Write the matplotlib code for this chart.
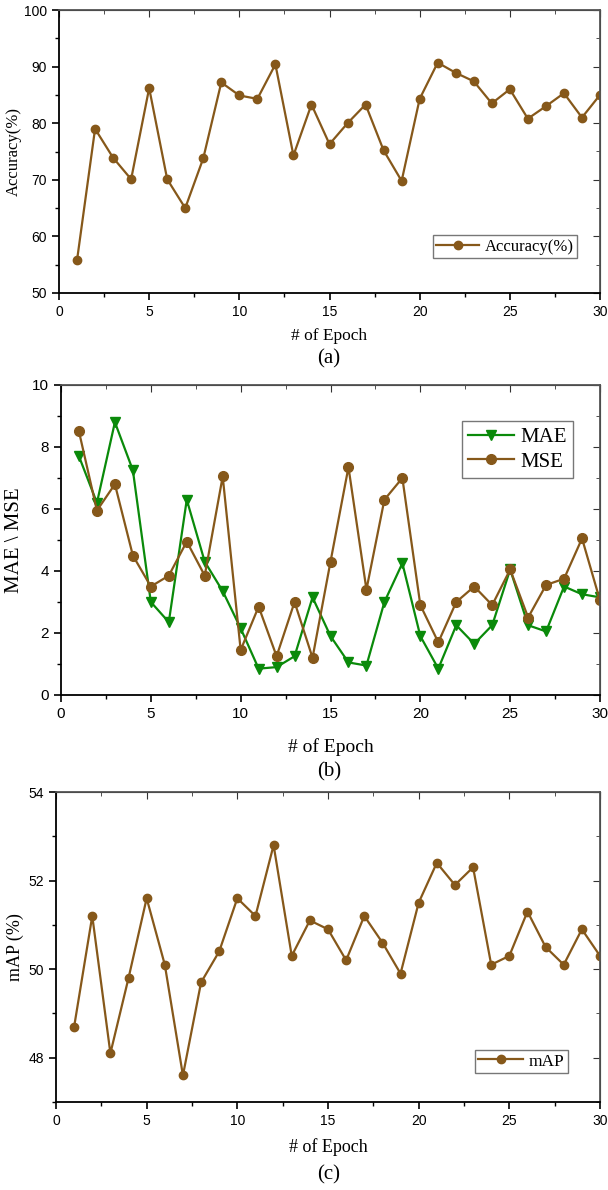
import numpy as np
import matplotlib
matplotlib.use('Agg')
import matplotlib.pyplot as plt
from matplotlib.ticker import MultipleLocator

plt.rcParams['font.family'] = 'Liberation Sans'

brown = '#86581A'
green = '#0A8A0A'

# epochs
epoch = list(range(1, 31))

# (a) accuracy
acc = [55.8, 79.0, 73.9, 70.1, 86.2, 70.1, 65.0, 73.8, 87.2, 84.9,
       84.3, 90.4, 74.3, 83.3, 76.3, 80.0, 83.3, 75.2, 69.8, 84.3,
       90.7, 88.9, 87.4, 83.5, 86.0, 80.8, 83.0, 85.3, 81.0, 85.0]

# (b) MAE / MSE
mae = [7.7, 6.2, 8.8, 7.25, 3.0, 2.35, 6.3, 4.3, 3.35, 2.15,
       0.85, 0.9, 1.25, 3.15, 1.9, 1.05, 0.95, 3.0, 4.25, 1.9,
       0.85, 2.25, 1.65, 2.25, 4.05, 2.25, 2.05, 3.5, 3.25, 3.15]
mse = [8.5, 5.95, 6.8, 4.5, 3.5, 3.85, 4.95, 3.85, 7.05, 1.45,
       2.85, 1.25, 3.0, 1.2, 4.3, 7.35, 3.4, 6.3, 7.0, 2.9,
       1.7, 3.0, 3.5, 2.9, 4.05, 2.5, 3.55, 3.75, 5.05, 3.05]

# (c) mAP
mapv = [48.7, 51.2, 48.1, 49.8, 51.6, 50.1, 47.6, 49.7, 50.4, 51.6,
        51.2, 52.8, 50.3, 51.1, 50.9, 50.2, 51.2, 50.6, 49.9, 51.5,
        52.4, 51.9, 52.3, 50.1, 50.3, 51.3, 50.5, 50.1, 50.9, 50.3]

W, H = 608, 1190
fig = plt.figure(figsize=(W / 100, H / 100), dpi=100)


def make_ax(l, t, r, b):
    # pixel box -> figure fraction
    return fig.add_axes([l / W, 1 - b / H, (r - l) / W, (b - t) / H])


def style(ax, ymin, ymax, ymaj, ymin_step, tsize):
    ax.set_xlim(0, 30)
    ax.set_ylim(ymin, ymax)
    ax.xaxis.set_major_locator(MultipleLocator(5))
    ax.xaxis.set_minor_locator(MultipleLocator(2.5))
    ax.yaxis.set_major_locator(MultipleLocator(ymaj))
    ax.yaxis.set_minor_locator(MultipleLocator(ymin_step))
    ax.tick_params(which='major', direction='out', length=5, width=1.2, labelsize=tsize)
    ax.tick_params(which='minor', direction='out', length=3, width=1.0)
    for s in ax.spines.values():
        s.set_linewidth(1.3)
    ax.spines['top'].set_color('#555555')
    ax.spines['right'].set_color('#555555')
    top = ax.secondary_xaxis('top')
    top.xaxis.set_major_locator(MultipleLocator(5))
    top.xaxis.set_minor_locator(MultipleLocator(2.5))
    top.tick_params(which='both', direction='in', labeltop=False, colors='#333333')
    top.tick_params(which='major', length=5)
    top.tick_params(which='minor', length=3)
    right = ax.secondary_yaxis('right')
    right.yaxis.set_major_locator(MultipleLocator(ymaj))
    right.yaxis.set_minor_locator(MultipleLocator(ymin_step))
    right.tick_params(which='both', direction='in', labelright=False, colors='#333333')
    right.tick_params(which='major', length=5)
    right.tick_params(which='minor', length=3)


serif = 'Liberation Serif'

# ---- (a)
ax1 = make_ax(59, 10, 600, 293)
ax1.plot(epoch, acc, color=brown, lw=1.6, marker='o', ms=6, label='Accuracy(%)')
style(ax1, 50, 100, 10, 5, 10)
ax1.set_ylabel('Accuracy(%)', family=serif, fontsize=12)
ax1.yaxis.set_label_coords(-0.068, 0.5)
ax1.set_xlabel('# of Epoch', family=serif, fontsize=12.5)
ax1.xaxis.set_label_coords(0.5, -0.124)
ax1.legend(loc='lower right', bbox_to_anchor=(0.957, 0.124), prop={'family': serif, 'size': 12},
           fancybox=False, edgecolor='#555555', handlelength=2.6, borderpad=0.2,
           borderaxespad=0, handletextpad=0.3)
fig.text(329 / W, 1 - 359 / H, '(a)', family=serif, fontsize=15, ha='center', va='center')

# ---- (b)
ax2 = make_ax(61, 385, 600, 695)
ax2.plot(epoch, mae, color=green, lw=1.6, marker='v', ms=7, label='MAE')
ax2.plot(epoch, mse, color=brown, lw=1.6, marker='o', ms=7, label='MSE')
style(ax2, 0, 10, 2, 1, 11)
ax2.set_ylabel('MAE \\ MSE', family=serif, fontsize=15)
ax2.yaxis.set_label_coords(-0.0686, 0.5)
ax2.set_xlabel('# of Epoch', family=serif, fontsize=14)
ax2.xaxis.set_label_coords(0.5, -0.139)
ax2.legend(loc='upper right', bbox_to_anchor=(0.95, 0.884), prop={'family': serif, 'size': 15},
           fancybox=False, edgecolor='#555555', handlelength=2.2, borderpad=0.3,
           labelspacing=0.25, handletextpad=0.3, borderaxespad=0)
fig.text(329 / W, 1 - 772 / H, '(b)', family=serif, fontsize=15, ha='center', va='center')

# ---- (c)
ax3 = make_ax(56, 792, 600, 1102)
ax3.plot(epoch, mapv, color=brown, lw=1.6, marker='o', ms=6, label='mAP')
style(ax3, 47, 54, 2, 1, 10)
ax3.set_ylabel('mAP (%)', family=serif, fontsize=13)
ax3.yaxis.set_label_coords(-0.0588, 0.5)
ax3.set_xlabel('# of Epoch', family=serif, fontsize=13)
ax3.xaxis.set_label_coords(0.5, -0.116)
ax3.legend(loc='lower right', bbox_to_anchor=(0.941, 0.0935), prop={'family': serif, 'size': 12.5},
           fancybox=False, edgecolor='#555555', handlelength=2.6, borderpad=0.2,
           borderaxespad=0, handletextpad=0.3)
fig.text(329 / W, 1 - 1175 / H, '(c)', family=serif, fontsize=15, ha='center', va='center')

fig.savefig('out.png', dpi=100)
